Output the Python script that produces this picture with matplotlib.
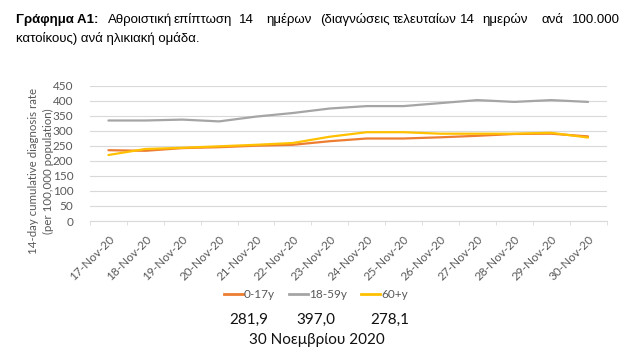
import matplotlib
matplotlib.use("Agg")
import matplotlib.pyplot as plt
from matplotlib.lines import Line2D

dates = ["17-Nov-20", "18-Nov-20", "19-Nov-20", "20-Nov-20", "21-Nov-20", "22-Nov-20",
         "23-Nov-20", "24-Nov-20", "25-Nov-20", "26-Nov-20", "27-Nov-20", "28-Nov-20",
         "29-Nov-20", "30-Nov-20"]
age_0_17 = [236, 234, 243, 246, 251, 254, 266, 275, 275, 279, 284, 290, 291, 281.9]
age_18_59 = [335, 335, 338, 332, 348, 360, 375, 383, 383, 393, 403, 397, 403, 397.0]
age_60p = [220, 240, 244, 249, 254, 260, 281, 296, 296, 291, 291, 291, 294, 278.1]
series_names = ["0-17y", "18-59y", "60+y"]
colors = ["#ED7D31", "#A5A5A5", "#FFC000"]
summary_values = ["281,9", "397,0", "278,1"]
summary_date = "30 Νοεμβρίου 2020"
yticks = list(range(0, 451, 50))

W, H = 622, 347
fig = plt.figure(figsize=(W / 100, H / 100), dpi=100)
CF = ["Lato", "DejaVu Sans"]
TF = ["Liberation Sans", "DejaVu Sans"]

ax = fig.add_axes([90 / W, 1 - 221 / H, (606.5 - 90) / W, (221 - 86) / H])
x = list(range(len(dates)))
for vals, c in zip([age_0_17, age_18_59, age_60p], colors):
    ax.plot(x, vals, color=c, lw=1.6, solid_capstyle="round")
ax.set_xlim(-0.5, len(dates) - 0.5)
ax.set_ylim(0, 450)
ax.set_yticks(yticks)
ax.set_yticklabels([str(v) for v in yticks], family=CF, fontsize=8.5, color="#595959")
ax.yaxis.grid(True, color="#D9D9D9", lw=0.8)
ax.set_axisbelow(True)
for s in ["top", "right", "left"]:
    ax.spines[s].set_visible(False)
ax.spines["bottom"].set_color("#D9D9D9")
ax.tick_params(axis="y", length=0, pad=12)
ax.set_xticks(x)
ax.set_xticklabels(dates, rotation=45, ha="right", va="top", rotation_mode="anchor",
                   family=CF, fontsize=8.5, color="#595959")
ax.tick_params(axis="x", length=0, pad=9)
ax.set_xticks([i - 0.5 for i in range(len(dates) + 1)], minor=True)
ax.tick_params(axis="x", which="minor", length=3, color="#D9D9D9")

fig.text(41 / W, 1 - 171 / H, "14-day cumulative diagnosis rate\n(per 100,000 population)",
         rotation=90, ha="center", va="center", family=CF, fontsize=8.3,
         color="#595959", linespacing=1.45)

handles = [Line2D([0], [0], color=c, lw=2) for c in colors]
leg = fig.legend(handles, series_names, loc="center", bbox_to_anchor=(316 / W, 1 - 295 / H),
                 ncol=3, frameon=False, handlelength=1.6, handletextpad=0.1,
                 columnspacing=1.2, prop={"family": CF, "size": 8.5})
for t in leg.get_texts():
    t.set_color("#595959")

for v, cx in zip(summary_values, [249, 316, 390]):
    fig.text(cx / W, 1 - 320 / H, v, ha="center", va="center", family=CF, fontsize=11,
             color="#111111")
fig.text(317 / W, 1 - 340 / H, summary_date, ha="center", va="center", family=CF,
         fontsize=11, color="#111111")

# Title (justified first line)
words = [("Γράφημα Α1:", 16, True), ("Αθροιστική", 108, False),
         ("επίπτωση", 174, False), ("14", 239, False), ("ημέρων", 266, False),
         ("(διαγνώσεις", 320, False), ("τελευταίων", 393, False), ("14", 460, False),
         ("ημερών", 482, False), ("ανά", 542, False), ("100.000", 572, False)]
for w, px, b in words:
    fig.text(px / W, 1 - 23 / H, w, ha="left", va="baseline", family=TF, fontsize=9.5,
             fontweight="bold" if b else "normal", color="black")
fig.text(16 / W, 1 - 42 / H, "κατοίκους) ανά ηλικιακή ομάδα.", ha="left", va="baseline",
         family=TF, fontsize=9.5, color="black")

fig.savefig("out.png", dpi=100, facecolor="white")
